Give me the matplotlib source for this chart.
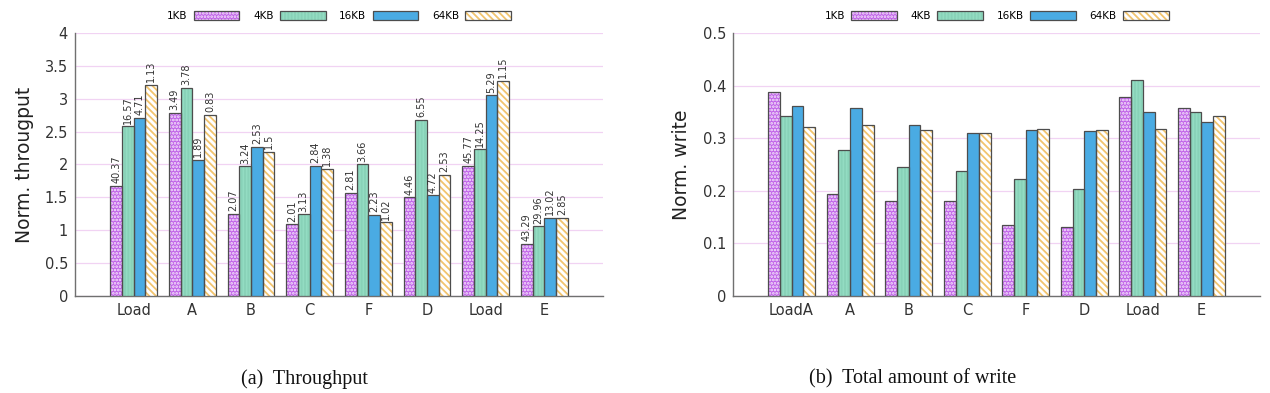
import matplotlib
matplotlib.use("Agg")
import matplotlib.pyplot as plt
from matplotlib.patches import Patch
from matplotlib.legend_handler import HandlerTuple
import numpy as np

# ---------------- data ----------------
series = ["1KB", "4KB", "16KB", "64KB"]

tp_categories = ["Load", "A", "B", "C", "F", "D", "Load", "E"]
tp_1kb = [1.68, 2.78, 1.25, 1.09, 1.57, 1.50, 1.98, 0.79]
tp_4kb = [2.58, 3.16, 1.97, 1.24, 2.00, 2.68, 2.23, 1.06]
tp_16kb = [2.71, 2.07, 2.27, 1.98, 1.23, 1.53, 3.05, 1.19]
tp_64kb = [3.21, 2.75, 2.19, 1.93, 1.12, 1.84, 3.27, 1.19]

tp_lab_1kb = ["40.37", "3.49", "2.07", "2.01", "2.81", "4.46", "45.77", "43.29"]
tp_lab_4kb = ["16.57", "3.78", "3.24", "3.13", "3.66", "6.55", "14.25", "29.96"]
tp_lab_16kb = ["4.71", "1.89", "2.53", "2.84", "2.23", "4.72", "5.29", "13.02"]
tp_lab_64kb = ["1.13", "0.83", "1.5", "1.38", "1.02", "2.53", "1.15", "2.85"]

wr_categories = ["LoadA", "A", "B", "C", "F", "D", "Load", "E"]
wr_1kb = [0.387, 0.194, 0.180, 0.181, 0.135, 0.132, 0.378, 0.357]
wr_4kb = [0.343, 0.277, 0.246, 0.237, 0.223, 0.204, 0.411, 0.349]
wr_16kb = [0.361, 0.358, 0.326, 0.309, 0.315, 0.313, 0.349, 0.330]
wr_64kb = [0.321, 0.326, 0.315, 0.309, 0.318, 0.316, 0.317, 0.343]

tp_yticks = [0, 0.5, 1, 1.5, 2, 2.5, 3, 3.5, 4]
tp_yticklabels = ["0", "0.5", "1", "1.5", "2", "2.5", "3", "3.5", "4"]
wr_yticks = [0, 0.1, 0.2, 0.3, 0.4, 0.5]
wr_yticklabels = ["0", "0.1", "0.2", "0.3", "0.4", "0.5"]

# ---------------- styles ----------------
plt.rcParams["font.family"] = ["DejaVu Sans"]
plt.rcParams["hatch.linewidth"] = 1.3

styles = [
    dict(face="#c064e8", hcol="#f7e8fc", hatch="....."),
    dict(face="#93dcc2", hcol="#88d2b8", hatch="|||||"),
    dict(face="#4aabe3", hcol="#4aabe3", hatch=None),
    dict(face="#ffffff", hcol="#f2c46e", hatch="\\\\\\\\\\"),
]
EDGE = "#4d4d4d"
GRID = "#f1d3f3"
SPINE = "#707070"
TXT = "#333333"

fig = plt.figure(figsize=(12.70, 3.93), dpi=100)
ax1 = fig.add_axes([75 / 1270, 1 - 296 / 393, 528 / 1270, 263 / 393])
ax2 = fig.add_axes([733 / 1270, 1 - 296 / 393, 527 / 1270, 263 / 393])

width = 0.2
offsets = [-1.5 * width, -0.5 * width, 0.5 * width, 1.5 * width]


def draw(ax, cats, data, labels, yticks, yticklabels, ylabel, ymax):
    x = np.arange(len(cats))
    handles = []
    for i, vals in enumerate(data):
        st = styles[i]
        ax.bar(x + offsets[i], vals, width, color=st["face"],
               edgecolor=st["hcol"], hatch=st["hatch"], linewidth=0, zorder=3)
        ax.bar(x + offsets[i], vals, width, fill=False, edgecolor=EDGE,
               linewidth=0.9, zorder=4)
        h1 = Patch(facecolor=st["face"], edgecolor=st["hcol"], hatch=st["hatch"], linewidth=0)
        h2 = Patch(fill=False, edgecolor=EDGE, linewidth=0.9)
        handles.append((h1, h2))
        if labels is not None:
            for xi, v, t in zip(x + offsets[i], vals, labels[i]):
                ax.annotate(t, (xi, v), xytext=(0, 2), textcoords="offset points",
                            rotation=90, ha="center", va="bottom",
                            fontsize=7, color=TXT, zorder=5)
    ax.set_xlim(-1, len(cats))
    ax.set_ylim(0, ymax)
    ax.set_xticks(x)
    ax.set_xticklabels(cats, fontsize=10.5, color=TXT)
    ax.set_yticks(yticks)
    ax.set_yticklabels(yticklabels, fontsize=10.5, color=TXT)
    ax.tick_params(axis="both", length=0, pad=5)
    ax.set_ylabel(ylabel, fontsize=13.5, color="#222222", labelpad=8)
    for s in ["top", "right"]:
        ax.spines[s].set_visible(False)
    for s in ["left", "bottom"]:
        ax.spines[s].set_color(SPINE)
        ax.spines[s].set_linewidth(1.0)
    ax.yaxis.grid(True, color=GRID, linewidth=0.9, zorder=0)
    ax.set_axisbelow(True)
    ax.legend(handles, series, handler_map={tuple: HandlerTuple(ndivide=1, pad=0)},
              loc="lower center", bbox_to_anchor=(0.5, 1.03), ncol=4,
              frameon=False, markerfirst=False, fontsize=7.5,
              handlelength=4.4, handleheight=0.9, handletextpad=0.6,
              columnspacing=1.3, borderaxespad=0)


draw(ax1, tp_categories, [tp_1kb, tp_4kb, tp_16kb, tp_64kb],
     [tp_lab_1kb, tp_lab_4kb, tp_lab_16kb, tp_lab_64kb],
     tp_yticks, tp_yticklabels, "Norm. througput", 4)
draw(ax2, wr_categories, [wr_1kb, wr_4kb, wr_16kb, wr_64kb], None,
     wr_yticks, wr_yticklabels, "Norm. write", 0.5)

fig.text(304 / 1270, 1 - 379 / 393, "(a)  Throughput", ha="center", va="center",
         fontsize=14.5, family=["Liberation Serif"], color="#111111")
fig.text(913 / 1270, 1 - 379 / 393, "(b)  Total amount of write", ha="center", va="center",
         fontsize=14.5, family=["Liberation Serif"], color="#111111")

fig.savefig("out.png", dpi=100)
